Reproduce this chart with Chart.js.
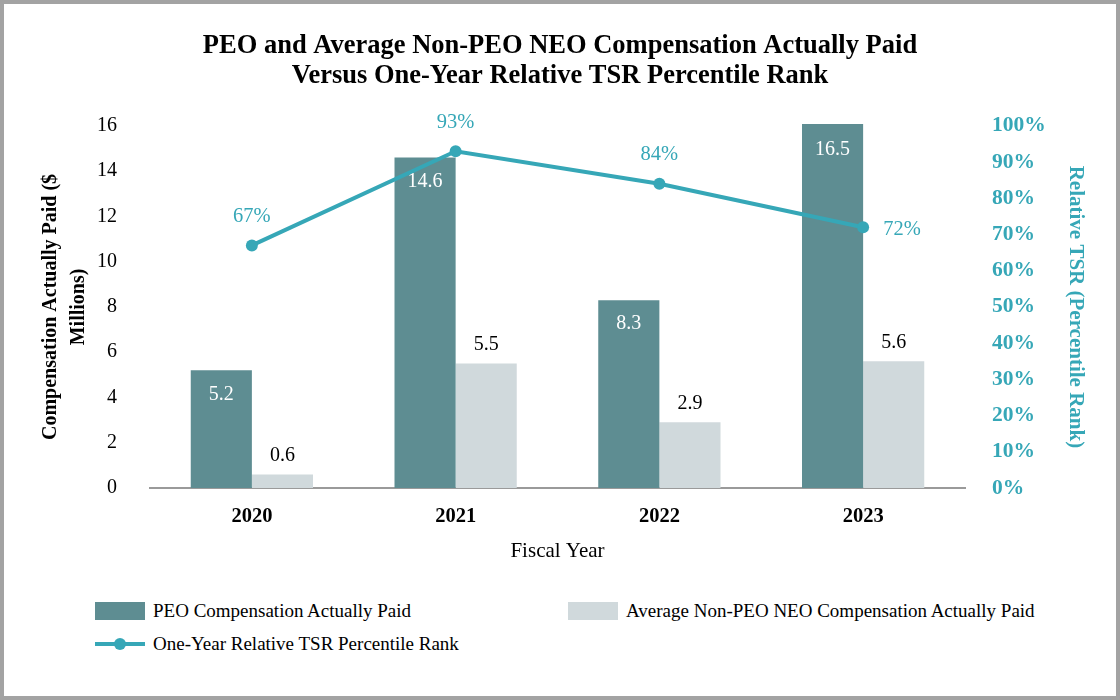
<!DOCTYPE html>
<html>
<head>
<meta charset="utf-8">
<script src="https://cdn.jsdelivr.net/npm/chart.js@4.4.1/dist/chart.umd.min.js"></script>
<style>
  body { margin: 0; background: #fff; }
  #wrap { position: relative; width: 1120px; height: 700px; overflow: hidden; }
  #myChart { position: absolute; left: 0; top: 0; }
  #frame { position: absolute; left: 0; top: 0; width: 1120px; height: 700px; box-sizing: border-box; border: 4px solid #a3a3a3; pointer-events: none; }
  .legend-item { position: absolute; font-family: 'Liberation Serif', serif; font-size: 19px; color: #000; display: flex; align-items: center; white-space: nowrap; }
  .swatch { width: 50px; height: 18px; margin-right: 8px; }
  .line-swatch { position: relative; width: 50px; height: 18px; margin-right: 8px; }
  .line-swatch:before { content: ''; position: absolute; left: 0; right: 0; top: 7px; height: 4px; background: #36a7b7; }
  .line-swatch:after { content: ''; position: absolute; left: 19px; top: 3px; width: 12px; height: 12px; border-radius: 50%; background: #36a7b7; }
</style>
</head>
<body>
<div id="wrap">
  <canvas id="myChart" width="1120" height="580"></canvas>
  <div class="legend-item" style="left:95px; top:600px;"><span class="swatch" style="background:#5e8d92;"></span>PEO Compensation Actually Paid</div>
  <div class="legend-item" style="left:568px; top:600px;"><span class="swatch" style="background:#d0d9dc;"></span>Average Non-PEO NEO Compensation Actually Paid</div>
  <div class="legend-item" style="left:95px; top:633px;"><span class="line-swatch"></span>One-Year Relative TSR Percentile Rank</div>
  <div id="frame"></div>
</div>
<script>
'use strict';

//data
var fiscalYears = ['2020', '2021', '2022', '2023'];
var peoPaid = [5.2, 14.6, 8.3, 16.5];
var neoPaid = [0.6, 5.5, 2.9, 5.6];
var tsrRank = [67, 93, 84, 72];

var peoColor = '#5e8d92';
var neoColor = '#d0d9dc';
var tsrColor = '#36a7b7';
var serif = "'Liberation Serif', 'Times New Roman', serif";

//value labels on bars and points
var valueLabels = {
  id: 'valueLabels',
  afterDatasetsDraw: function (chart) {
    var ctx = chart.ctx;
    var top = chart.chartArea.top;
    ctx.save();
    ctx.font = '20px ' + serif;
    ctx.textAlign = 'center';
    ctx.textBaseline = 'middle';

    chart.getDatasetMeta(0).data.forEach(function (bar, i) {
      ctx.fillStyle = '#ffffff';
      ctx.fillText(peoPaid[i].toFixed(1), bar.x, Math.max(bar.y, top) + 24);
    });

    chart.getDatasetMeta(1).data.forEach(function (bar, i) {
      ctx.fillStyle = '#000000';
      ctx.fillText(neoPaid[i].toFixed(1), bar.x, bar.y - 19);
    });

    var points = chart.getDatasetMeta(2).data;
    ctx.font = '20.5px ' + serif;
    points.forEach(function (pt, i) {
      ctx.fillStyle = tsrColor;
      if (i === points.length - 1) {
        ctx.fillText(tsrRank[i] + '%', pt.x + 39, pt.y + 2);
      } else {
        ctx.fillText(tsrRank[i] + '%', pt.x, pt.y - 29);
      }
    });
    ctx.restore();
  }
};

function makeChart() {
  var ctx = document.getElementById('myChart').getContext('2d');
  return new Chart(ctx, {
    type: 'bar',
    data: {
      labels: fiscalYears,
      datasets: [{
        label: 'PEO Compensation Actually Paid',
        data: peoPaid,
        backgroundColor: peoColor,
        yAxisID: 'y',
        order: 2,
        clip: 2
      }, {
        label: 'Average Non-PEO NEO Compensation Actually Paid',
        data: neoPaid,
        backgroundColor: neoColor,
        yAxisID: 'y',
        order: 2,
        clip: 2
      }, {
        type: 'line',
        label: 'One-Year Relative TSR Percentile Rank',
        data: tsrRank,
        borderColor: tsrColor,
        backgroundColor: tsrColor,
        borderWidth: 4,
        pointRadius: 6,
        pointBorderWidth: 0,
        yAxisID: 'y1',
        order: 1
      }]
    },
    options: {
      responsive: false,
      animation: false,
      datasets: {
        bar: { barPercentage: 1, categoryPercentage: 0.6 }
      },
      layout: { padding: 0 },
      plugins: {
        legend: { display: false },
        tooltip: { enabled: false },
        title: {
          display: true,
          text: ['PEO and Average Non-PEO NEO Compensation Actually Paid', 'Versus One-Year Relative TSR Percentile Rank'],
          color: '#000',
          font: { family: serif, size: 26.5, weight: 'bold', lineHeight: 1.13 },
          padding: { top: 31, bottom: 35 }
        }
      },
      scales: {
        x: {
          grid: { display: false, drawTicks: false },
          border: { display: true, color: '#9a9a9a', width: 2 },
          ticks: { color: '#000', padding: 16, font: { family: serif, size: 20.5, weight: 'bold' } },
          title: {
            display: true,
            text: 'Fiscal Year',
            color: '#000',
            font: { family: serif, size: 21, lineHeight: 1.5 },
            padding: { top: 0, bottom: 13 }
          },
          afterFit: function (scale) { scale.height = 92; }
        },
        y: {
          position: 'left',
          min: 0,
          max: 16,
          grid: { display: false, drawTicks: false },
          border: { display: false },
          ticks: { stepSize: 2, color: '#000', padding: 33, font: { family: serif, size: 20 } },
          title: {
            display: true,
            text: ['Compensation Actually Paid ($', 'Millions)'],
            color: '#000',
            font: { family: serif, size: 20, weight: 'bold', lineHeight: 1.4 },
            padding: { top: 37 }
          },
          afterFit: function (scale) { scale.width = 150; }
        },
        y1: {
          position: 'right',
          min: 0,
          max: 100,
          grid: { display: false, drawTicks: false },
          border: { display: false },
          ticks: {
            stepSize: 10,
            color: tsrColor,
            padding: 27,
            font: { family: serif, size: 21.5, weight: 'bold' },
            callback: function (v) { return v + '%'; }
          },
          title: {
            display: true,
            text: 'Relative TSR (Percentile Rank)',
            color: tsrColor,
            font: { family: serif, size: 21, weight: 'bold', lineHeight: 1.4 },
            padding: { top: 30 }
          },
          afterFit: function (scale) { scale.width = 155; }
        }
      }
    },
    plugins: [valueLabels]
  });
}

makeChart();
</script>
</body>
</html>
